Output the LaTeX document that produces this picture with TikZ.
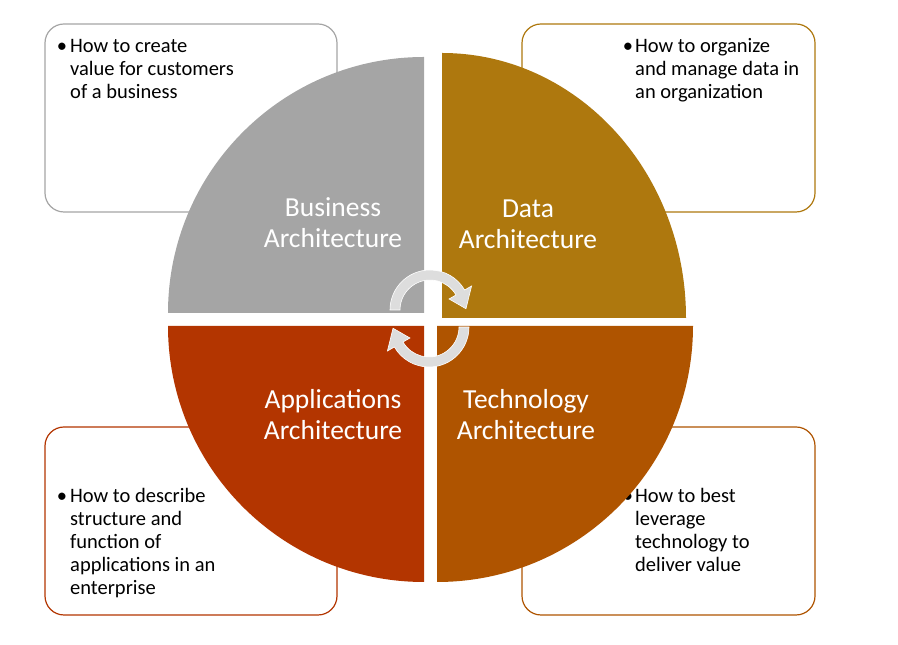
\documentclass[tikz,border=0pt]{standalone}
\usepackage{fontspec}
\setmainfont{Carlito}
\definecolor{qgrey}{HTML}{A5A5A5}
\definecolor{qgold}{HTML}{AE780E}
\definecolor{qtech}{HTML}{AF5400}
\definecolor{qred}{HTML}{B33500}
\definecolor{arrowfill}{HTML}{DDDDDD}
\begin{document}
\begin{tikzpicture}[x=1pt,y=1pt,
  infobox/.style={draw, line width=1.2pt, fill=white, rounded corners=19pt},
  quadlabel/.style={text=white, font=\fontsize{27.5}{31}\selectfont, align=center, inner sep=0pt, anchor=base},
  infotext/.style={font=\fontsize{20.5}{23}\selectfont, align=left, inner sep=0pt, anchor=base west},
  bulletmark/.style={font=\fontsize{20.5}{23}\selectfont, inner sep=0pt, anchor=base},
  cyclearrow/.style={fill=arrowfill, draw=white, line width=0.6pt}]
\useasboundingbox (0,0) rectangle (898,645);

% info boxes
\draw[infobox, draw=qgrey] (45,433) rectangle (337,621);
\draw[infobox, draw=qgold] (522,433) rectangle (815,621);
\draw[infobox, draw=qred] (45,30) rectangle (337,218);
\draw[infobox, draw=qtech] (522,30) rectangle (815,218);

% box texts (anchor base = baseline of last line)
\node[bulletmark] (b1) at (62,592.5) {•};
\node[infotext] (t1) at (70,546.5) {How to create\\value for customers\\of a business};
\node[bulletmark] (b2) at (628,592.5) {•};
\node[infotext] (t2) at (635,546.5) {How to organize\\and manage data in\\an organization};
\node[bulletmark] (b3) at (62,142) {•};
\node[infotext] (t3) at (70,50) {How to describe\\structure and\\function of\\applications in an\\enterprise};
\node[bulletmark] (b4) at (628,142) {•};
\node[infotext] (t4) at (635,73) {How to best\\leverage\\technology to\\deliver value};

% quadrants
\fill[qgrey] (424,332) -- (424,588) arc[start angle=90,end angle=180,radius=256] -- cycle;
\fill[qgold] (442,327) -- (686,327) arc[start angle=0,end angle=90,x radius=244,y radius=265] -- cycle;
\fill[qtech] (437,319) -- (693,319) arc[start angle=0,end angle=-90,radius=256] -- cycle;
\fill[qred] (424,319) -- (424,63) arc[start angle=270,end angle=180,radius=256] -- cycle;

% labels
\node[quadlabel] (lb) at (333,397.5) {Business\\Architecture};
\node[quadlabel] (ld) at (528,396.5) {Data\\Architecture};
\node[quadlabel] (la) at (333,205.5) {Applications\\Architecture};
\node[quadlabel] (lt) at (526,205.5) {Technology\\Architecture};

% cycle arrows
\filldraw[cyclearrow, shift={(430,335)}] (180:40) arc[start angle=180,end angle=30,radius=40]
  -- (30:48) -- (2:36) -- (30:22) -- (30:30) arc[start angle=30,end angle=180,radius=30] -- cycle;
\filldraw[cyclearrow, shift={(429,318)}] (0:40) arc[start angle=0,end angle=-150,radius=40]
  -- (-150:48) -- (-178:36) -- (-150:22) -- (-150:30) arc[start angle=-150,end angle=0,radius=30] -- cycle;
\end{tikzpicture}
\end{document}
